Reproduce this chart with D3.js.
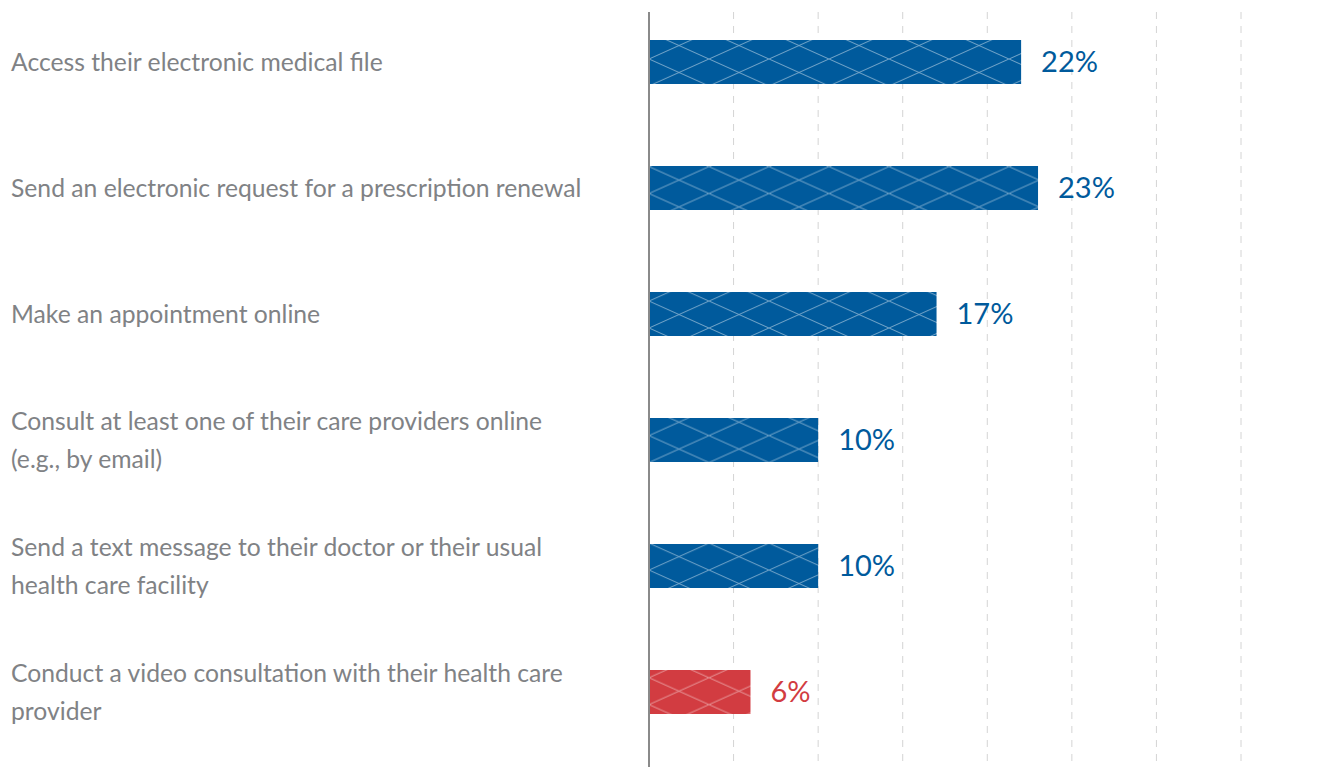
<!DOCTYPE html>
<html>
<head>
<meta charset="utf-8">
<script src="https://cdn.jsdelivr.net/npm/d3@7"></script>
<style>
  html, body { margin: 0; padding: 0; background: #fff; }
  svg { display: block; }
</style>
</head>
<body>
<svg id="chart" width="1319" height="767"></svg>
<script>
// Share of people who used each online health service
const categories = [
  ["Access their electronic medical file"],
  ["Send an electronic request for a prescription renewal"],
  ["Make an appointment online"],
  ["Consult at least one of their care providers online", "(e.g., by email)"],
  ["Send a text message to their doctor or their usual", "health care facility"],
  ["Conduct a video consultation with their health care", "provider"]
];
const values = [22, 23, 17, 10, 10, 6];
const highlight = [false, false, false, false, false, true];
const gridTicks = [5, 10, 15, 20, 25, 30, 35];

const W = 1319, H = 767;
const BLUE = "#005a9c", RED = "#d23c41";
const svg = d3.select("#chart");

const x = d3.scaleLinear().domain([0, 35]).range([649, 1241]);
const y = d3.scalePoint().domain(d3.range(categories.length)).range([62, 692]);
const barH = 44;

// Diamond cross-hatch fills
const defs = svg.append("defs");
[["hatch-blue", BLUE, "rgba(255,255,255,0.45)"], ["hatch-red", RED, "rgba(255,255,255,0.45)"]].forEach(([id, fill, line]) => {
  const pw = 60, ph = 26.9;
  const p = defs.append("pattern")
    .attr("id", id)
    .attr("patternUnits", "userSpaceOnUse")
    .attr("x", x(0)).attr("y", y(0) - 3)
    .attr("width", pw).attr("height", ph);
  p.append("rect").attr("width", pw).attr("height", ph).attr("fill", fill);
  p.append("path")
    .attr("d", `M0,0L${pw},${ph}M0,${ph}L${pw},0M${-pw},0L0,${ph}M${pw},${ph}L${2*pw},0`)
    .attr("stroke", line).attr("stroke-width", 1).attr("fill", "none");
});

// Dashed vertical gridlines
svg.append("g").selectAll("line").data(gridTicks).join("line")
  .attr("x1", d => x(d)).attr("x2", d => x(d))
  .attr("y1", 12).attr("y2", H)
  .attr("stroke", "#d4d4d4").attr("stroke-width", 1)
  .attr("stroke-dasharray", "7,7");

// Bars
svg.append("g").selectAll("rect").data(values).join("rect")
  .attr("x", x(0))
  .attr("y", (d, i) => y(i) - barH / 2)
  .attr("width", d => x(d) - x(0))
  .attr("height", barH)
  .attr("fill", (d, i) => highlight[i] ? "url(#hatch-red)" : "url(#hatch-blue)");

// Baseline axis
svg.append("line")
  .attr("x1", x(0)).attr("x2", x(0))
  .attr("y1", 12).attr("y2", H)
  .attr("stroke", "#8a8a8a").attr("stroke-width", 2);

// Value labels
svg.append("g").selectAll("text").data(values).join("text")
  .attr("x", d => x(d) + 20)
  .attr("y", (d, i) => y(i))
  .attr("dy", "0.36em")
  .attr("font-family", "Lato, sans-serif")
  .attr("font-size", 29)
  .attr("fill", (d, i) => highlight[i] ? RED : BLUE)
  .text(d => d + "%");

// Category labels
const lineGap = 38;
const lab = svg.append("g").selectAll("text").data(categories).join("text")
  .attr("font-family", "Lato, sans-serif")
  .attr("font-size", 24.7)
  .attr("fill", "#808285")
  .attr("transform", (d, i) => `translate(11,${y(i) - (d.length - 1) * lineGap / 2})`);
lab.selectAll("tspan").data(d => d).join("tspan")
  .attr("x", 0)
  .attr("y", (d, j) => j * lineGap)
  .attr("dy", "0.36em")
  .text(d => d);
</script>
</body>
</html>
